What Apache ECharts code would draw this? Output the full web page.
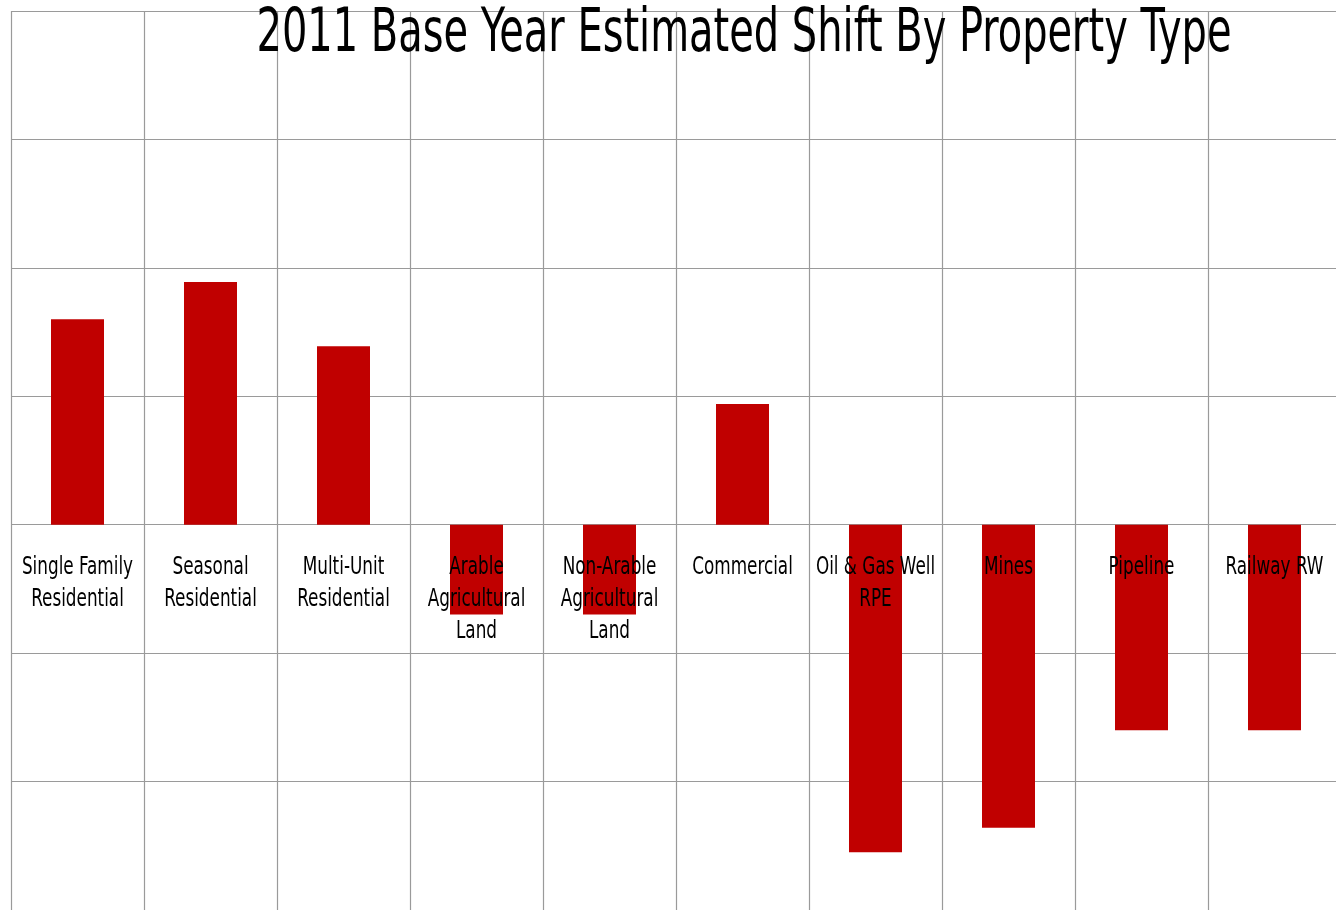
<!DOCTYPE html>
<html>
<head>
<meta charset="utf-8">
<style>
  html, body { margin: 0; padding: 0; background: #fff; }
  #chart { width: 1336px; height: 910px; }
</style>
<script src="https://cdn.jsdelivr.net/npm/echarts@6/dist/echarts.min.js"></script>
</head>
<body>
<div id="chart"></div>
<script>
// Property types shown along the zero line
const categories = [
  'Single Family\nResidential',
  'Seasonal\nResidential',
  'Multi-Unit\nResidential',
  'Arable\nAgricultural\nLand',
  'Non-Arable\nAgricultural\nLand',
  'Commercial',
  'Oil & Gas Well\nRPE',
  'Mines',
  'Pipeline',
  'Railway RW'
];

// Estimated shift (%) per property type
const shiftValues = [1.6, 1.89, 1.39, -0.70, -0.70, 0.94, -2.55, -2.36, -1.60, -1.60];

// Value axis range
const yMin = -3;
const yMax = 4;
const yStep = 1;

const titleText = '2011 Base Year Estimated Shift By Property Type';

const fontFamily = '"DejaVu Sans Condensed", "Liberation Sans Narrow", "Liberation Sans", sans-serif';
const gridColor = '#9a9a9a';

const chart = echarts.init(document.getElementById('chart'), null, { renderer: 'canvas' });

chart.setOption({
  animation: false,
  backgroundColor: '#ffffff',
  grid: {
    left: 11,
    right: -5,
    top: 11,
    bottom: 0,
    containLabel: false,
    outerBoundsMode: 'none'
  },
  xAxis: {
    type: 'category',
    data: categories,
    axisLine: { show: false },
    axisTick: { show: false },
    axisLabel: { show: false },
    splitLine: { show: true, interval: 0, lineStyle: { color: gridColor, width: 1.2 } }
  },
  yAxis: {
    type: 'value',
    min: yMin,
    max: yMax,
    interval: yStep,
    axisLine: { show: false },
    axisTick: { show: false },
    axisLabel: { show: false },
    splitLine: { show: true, lineStyle: { color: gridColor, width: 1.2 } }
  },
  series: [{
    type: 'bar',
    data: shiftValues,
    barWidth: 53,
    itemStyle: { color: '#c00000' }
  }]
});

// Narrow-set category labels hung just below the zero line, above the bars
const zeroY = chart.convertToPixel({ yAxisIndex: 0 }, 0);
const categoryLabels = categories.map(function (name, i) {
  return {
    type: 'text',
    x: chart.convertToPixel({ xAxisIndex: 0 }, i),
    y: zeroY + 27,
    scaleX: 0.78,
    z: 50,
    silent: true,
    style: {
      text: name,
      x: 0,
      y: 0,
      align: 'center',
      verticalAlign: 'top',
      fontFamily: fontFamily,
      fontSize: 24,
      lineHeight: 32,
      fill: '#000'
    }
  };
});

// Condensed headline across the top of the grid
const headline = {
  type: 'text',
  x: 744,
  y: 5,
  scaleX: 0.74,
  z: 60,
  silent: true,
  style: {
    text: titleText,
    x: 0,
    y: 0,
    align: 'center',
    verticalAlign: 'top',
    fontFamily: fontFamily,
    fontSize: 60,
    lineHeight: 60,
    fill: '#000'
  }
};

chart.setOption({ graphic: categoryLabels.concat([headline]) });
</script>
</body>
</html>
